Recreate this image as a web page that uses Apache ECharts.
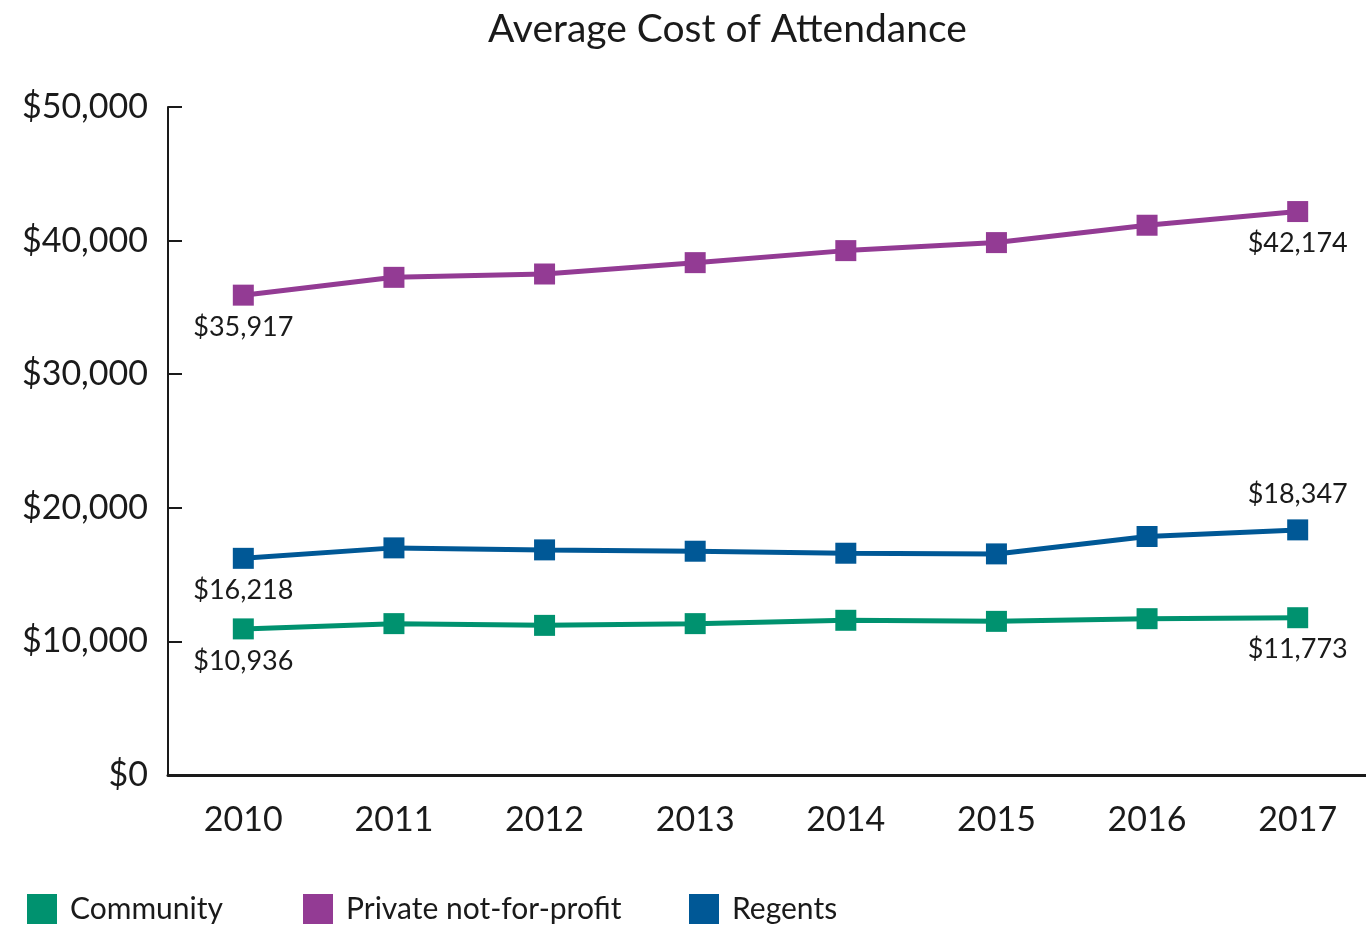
<!DOCTYPE html>
<html>
<head>
<meta charset="utf-8">
<script src="https://cdn.jsdelivr.net/npm/echarts@6/dist/echarts.min.js"></script>
<style>html,body{margin:0;padding:0;background:#fff;overflow:hidden}#c{width:1373px;height:929px}</style>
</head>
<body>
<div id="c"></div>
<script>
const years = ['2010','2011','2012','2013','2014','2015','2016','2017'];
const community = [10936, 11330, 11200, 11330, 11580, 11500, 11700, 11773];
const privateNfp = [35917, 37250, 37500, 38350, 39250, 39850, 41150, 42174];
const regents = [16218, 17000, 16850, 16750, 16600, 16550, 17850, 18347];
const yTicks = [0, 10000, 20000, 30000, 40000, 50000];
const seriesNames = ['Community', 'Private not-for-profit', 'Regents'];

const FONT = 'Lato';
const INK = '#1a1a1a';
const fmt = v => '$' + v.toLocaleString('en-US');

function endLabels(arr, lastPos) {
  return arr.map((v, i) => {
    if (i === 0 || i === arr.length - 1) {
      const pos = i === 0 ? 'bottom' : lastPos;
      return {
        value: v,
        label: {
          show: true,
          position: pos,
          distance: pos === 'top' ? 12 : 8,
          formatter: fmt(v),
          fontFamily: FONT,
          fontSize: 27,
          color: INK
        }
      };
    }
    return v;
  });
}

const legendLefts = [22, 298, 684];
const legends = seriesNames.map((n, i) => ({
  left: legendLefts[i],
  bottom: 0,
  itemWidth: 30,
  itemHeight: 30,
  itemGap: 0,
  icon: 'rect',
  textStyle: { fontFamily: FONT, fontSize: 30, color: INK, padding: [0, 0, 0, 8] },
  data: [n]
}));

const chart = echarts.init(document.getElementById('c'));
chart.setOption({
  animation: false,
  title: {
    text: 'Average Cost of Attendance',
    left: 483,
    top: 5,
    textStyle: { fontFamily: FONT, fontSize: 39, fontWeight: 'normal', color: INK }
  },
  legend: legends,
  grid: { left: 168, top: 107, right: 0, bottom: 154, containLabel: false },
  xAxis: {
    type: 'category',
    data: years,
    boundaryGap: true,
    axisLine: { lineStyle: { color: INK, width: 3 } },
    axisTick: { show: false },
    axisLabel: { fontFamily: FONT, fontSize: 34, color: INK, margin: 28 }
  },
  yAxis: {
    type: 'value',
    min: yTicks[0],
    max: yTicks[yTicks.length - 1],
    interval: yTicks[1] - yTicks[0],
    axisLine: { show: true, lineStyle: { color: INK, width: 2 } },
    axisTick: { show: true, inside: true, length: 14, lineStyle: { color: INK, width: 2 } },
    splitLine: { show: false },
    axisLabel: { fontFamily: FONT, fontSize: 34, color: INK, margin: 20, formatter: v => fmt(v) }
  },
  series: [
    {
      name: seriesNames[0], type: 'line', data: endLabels(community, 'bottom'),
      color: '#00926F', symbol: 'rect', symbolSize: 21,
      lineStyle: { width: 5, color: '#00926F' }, itemStyle: { color: '#00926F' }
    },
    {
      name: seriesNames[1], type: 'line', data: endLabels(privateNfp, 'bottom'),
      color: '#933B94', symbol: 'rect', symbolSize: 21,
      lineStyle: { width: 5, color: '#933B94' }, itemStyle: { color: '#933B94' }
    },
    {
      name: seriesNames[2], type: 'line', data: endLabels(regents, 'top'),
      color: '#005896', symbol: 'rect', symbolSize: 21,
      lineStyle: { width: 5, color: '#005896' }, itemStyle: { color: '#005896' }
    }
  ]
});
</script>
</body>
</html>
